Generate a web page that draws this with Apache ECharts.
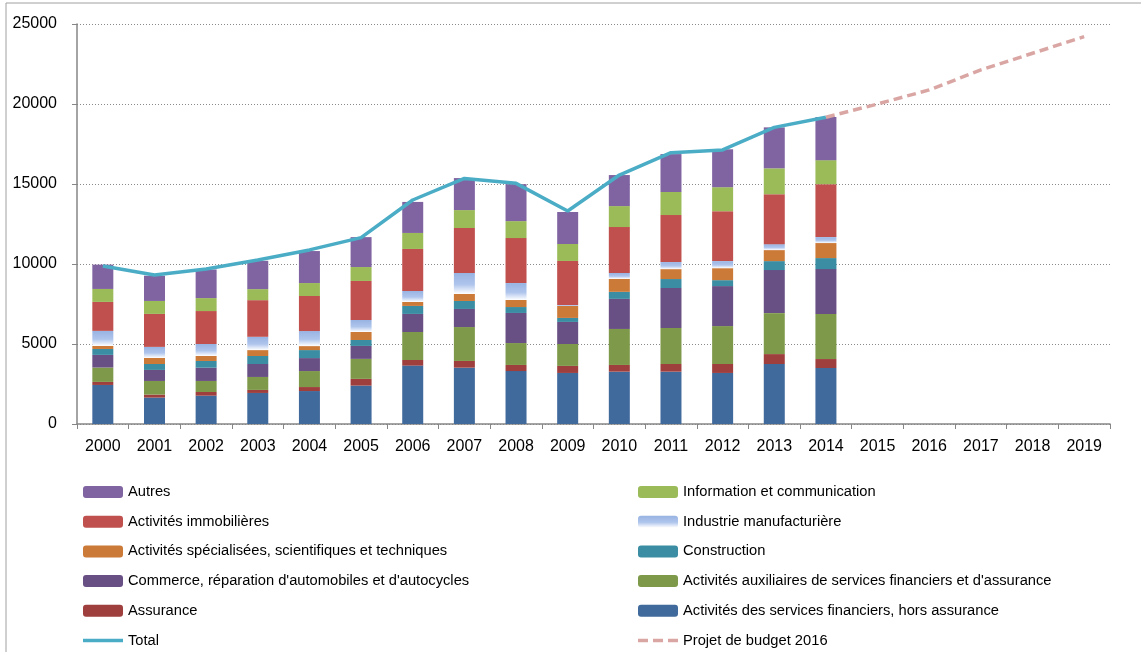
<!DOCTYPE html>
<html>
<head>
<meta charset="utf-8">
<script src="https://cdn.jsdelivr.net/npm/echarts@6/dist/echarts.min.js"></script>
<style>
  html, body { margin: 0; padding: 0; background: #fff; }
  #chart { width: 1141px; height: 652px; }
</style>
</head>
<body>
<div id="chart"></div>
<script>
// years on the x axis
var years = ['2000', '2001', '2002', '2003', '2004', '2005', '2006', '2007', '2008', '2009',
  '2010', '2011', '2012', '2013', '2014', '2015', '2016', '2017', '2018', '2019']

// stacked segments, bottom to top (2000 - 2014)
var financiers = [2440, 1650, 1770, 1940, 2060, 2400, 3650, 3520, 3310, 3190, 3270, 3270, 3190, 3750, 3500]
var assurance = [190, 190, 230, 190, 250, 420, 350, 420, 380, 440, 420, 480, 560, 620, 560]
var auxiliaires = [900, 850, 690, 810, 1000, 1250, 1750, 2120, 1370, 1370, 2250, 2250, 2370, 2560, 2810]
var commerce = [790, 690, 830, 810, 810, 810, 1130, 1130, 1880, 1380, 1880, 2500, 2500, 2690, 2810]
var construction = [370, 370, 420, 500, 500, 370, 500, 500, 370, 250, 440, 560, 370, 560, 690]
var specialisees = [190, 380, 310, 370, 250, 500, 250, 440, 440, 750, 810, 620, 750, 690, 940]
var industrie = [940, 690, 750, 830, 940, 750, 690, 1310, 1060, 60, 370, 440, 440, 370, 370]
var immobilieres = [1810, 2060, 2060, 2290, 2190, 2440, 2620, 2810, 2810, 2750, 2870, 2940, 3120, 3120, 3310]
var information = [810, 810, 810, 690, 810, 870, 1000, 1120, 1060, 1060, 1310, 1440, 1500, 1620, 1500]
var autres = [1520, 1580, 1790, 1770, 2000, 1870, 1940, 2000, 2310, 2000, 1940, 2370, 2370, 2560, 2690]

var total = [9880, 9310, 9690, 10250, 10880, 11650, 14000, 15350, 15040, 13310, 15560, 16960, 17130, 18540, 19170]
var projet = [null, null, null, null, null, null, null, null, null, null, null, null, null, null,
  19170, 20000, 20880, 22130, 23170, 24210]

var yTicks = { min: 0, max: 25000, interval: 5000 }

var font = 'Liberation Sans'

function bar (name, data, color) {
  return {
    name: name,
    type: 'bar',
    stack: 'va',
    barWidth: 21,
    data: data,
    itemStyle: { color: color },
    emphasis: { disabled: true }
  }
}

var industrieFill = new echarts.graphic.LinearGradient(0, 0, 0, 1, [
  { offset: 0, color: '#98b3e2' },
  { offset: 0.55, color: '#afc5ec' },
  { offset: 1, color: '#ffffff' }
])

// legend icons for the two lines: degenerate strokes keep the 40x12 box
var box = 'M0,0 L40,0 L0,0 Z M0,12 L40,12 L0,12 Z '
var totalIcon = 'path://' + box + 'M0,4.3 H40 V7.7 H0 Z'
var projetIcon = 'path://' + box + 'M0,4.3 H10 V7.7 H0 Z M15,4.3 H25 V7.7 H15 Z M30,4.3 H40 V7.7 H30 Z'

var legendText = { fontFamily: font, fontSize: 14.7, color: '#000', lineHeight: 16 }

var chart = echarts.init(document.getElementById('chart'), null, { renderer: 'canvas' })

var option = {
  animation: false,
  graphic: [{
    type: 'rect',
    shape: { x: 6, y: 3, width: 1300, height: 800 },
    style: { fill: 'none', stroke: '#a0a0a0', lineWidth: 1 },
    silent: true
  }],
  grid: { left: 77, right: 31, top: 24, bottom: 228 },
  legend: [
    {
      left: 83,
      top: 484,
      height: 168,
      padding: 0,
      orient: 'vertical',
      itemWidth: 40,
      itemHeight: 12,
      itemGap: 13.7,
      itemTextGap: 6,
      textStyle: legendText,
      data: [
        'Autres',
        'Activités immobilières',
        'Activités spécialisées, scientifiques et techniques',
        "Commerce, réparation d'automobiles et d'autocycles",
        'Assurance',
        { name: 'Total', icon: totalIcon }
      ]
    },
    {
      left: 638,
      top: 484,
      height: 168,
      padding: 0,
      orient: 'vertical',
      itemWidth: 40,
      itemHeight: 12,
      itemGap: 13.7,
      itemTextGap: 6,
      textStyle: legendText,
      data: [
        'Information et communication',
        'Industrie manufacturière',
        'Construction',
        "Activités auxiliaires de services financiers et d'assurance",
        'Activités des services financiers, hors assurance',
        { name: 'Projet de budget 2016', icon: projetIcon }
      ]
    }
  ],
  xAxis: {
    type: 'category',
    data: years,
    boundaryGap: true,
    axisLine: { lineStyle: { color: '#868686', width: 1.5 } },
    axisTick: { show: true, length: 5, lineStyle: { color: '#868686' } },
    axisLabel: { color: '#000', fontFamily: font, fontSize: 16, margin: 15 }
  },
  yAxis: {
    type: 'value',
    min: yTicks.min,
    max: yTicks.max,
    interval: yTicks.interval,
    axisLine: { show: true, lineStyle: { color: '#868686', width: 1.5 } },
    axisTick: { show: true, length: 5, lineStyle: { color: '#868686' } },
    axisLabel: {
      color: '#000',
      fontFamily: font,
      fontSize: 16,
      margin: 20,
      formatter: function (v) { return String(v) }
    },
    splitLine: { lineStyle: { color: '#8a8a8a', type: [1, 2], width: 1 } }
  },
  series: [
    bar('Activités des services financiers, hors assurance', financiers, '#40699c'),
    bar('Assurance', assurance, '#9e3f3d'),
    bar("Activités auxiliaires de services financiers et d'assurance", auxiliaires, '#7e994a'),
    bar("Commerce, réparation d'automobiles et d'autocycles", commerce, '#684f84'),
    bar('Construction', construction, '#3a8da2'),
    bar('Activités spécialisées, scientifiques et techniques', specialisees, '#cc7a38'),
    bar('Industrie manufacturière', industrie, industrieFill),
    bar('Activités immobilières', immobilieres, '#c0504d'),
    bar('Information et communication', information, '#9bbb59'),
    bar('Autres', autres, '#8064a2'),
    {
      name: 'Total',
      type: 'line',
      data: total,
      symbol: 'none',
      z: 5,
      lineStyle: { color: '#4bacc6', width: 3.5 },
      itemStyle: { color: '#4bacc6' }
    },
    {
      name: 'Projet de budget 2016',
      type: 'line',
      data: projet,
      symbol: 'none',
      z: 5,
      lineStyle: { color: '#d9a6a4', width: 3.5, type: [9, 5] },
      itemStyle: { color: '#d9a6a4' }
    }
  ]
}

chart.setOption(option)
</script>
</body>
</html>
